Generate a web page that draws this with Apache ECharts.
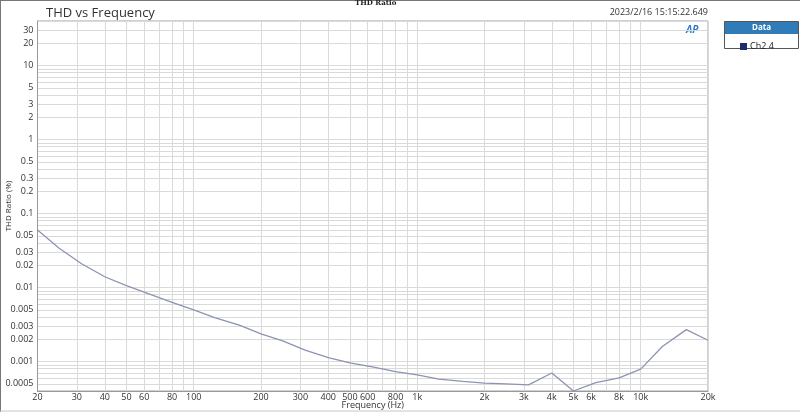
<!DOCTYPE html>
<html>
<head>
<meta charset="utf-8">
<title>THD vs Frequency</title>
<script src="https://cdn.jsdelivr.net/npm/echarts@6/dist/echarts.min.js"></script>
<style>
  html, body { margin: 0; padding: 0; background: #fff; }
  #chart { width: 800px; height: 412px; }
</style>
</head>
<body>
<div id="chart"></div>
<script>
// 1/3-octave measurement points (Hz)
const freqs = [20, 25, 31.5, 40, 50, 63, 80, 100, 125, 160, 200, 250, 315, 400, 500, 630, 800,
    1000, 1250, 1600, 2000, 2500, 3150, 4000, 5000, 6300, 8000, 10000, 12500, 16000, 20000];
// THD ratio (%)
const thdCh2 = [0.06, 0.034, 0.021, 0.014, 0.0106, 0.0082, 0.0063, 0.005, 0.0039, 0.0031, 0.00236,
    0.0019, 0.00143, 0.00113, 0.00096, 0.00085, 0.00073, 0.00066, 0.00058, 0.00054, 0.00051,
    0.0005, 0.000485, 0.0007, 0.0004, 0.00052, 0.0006, 0.00079, 0.0016, 0.0027, 0.00194];

// grid lines and labels
const xGridValues = [20, 30, 40, 50, 60, 70, 80, 90, 100, 200, 300, 400, 500, 600, 700, 800, 900,
    1000, 2000, 3000, 4000, 5000, 6000, 7000, 8000, 9000, 10000, 20000];
const xLabelValues = [20, 30, 40, 50, 60, 80, 100, 200, 300, 400, 500, 600, 800,
    1000, 2000, 3000, 4000, 5000, 6000, 8000, 10000, 20000];
const yGridValues = [0.0004, 0.0005, 0.0006, 0.0007, 0.0008, 0.0009,
    0.001, 0.002, 0.003, 0.004, 0.005, 0.006, 0.007, 0.008, 0.009,
    0.01, 0.02, 0.03, 0.04, 0.05, 0.06, 0.07, 0.08, 0.09,
    0.1, 0.2, 0.3, 0.4, 0.5, 0.6, 0.7, 0.8, 0.9,
    1, 2, 3, 4, 5, 6, 7, 8, 9, 10, 20, 30, 40];
const yLabelValues = [0.0005, 0.001, 0.002, 0.003, 0.005, 0.01, 0.02, 0.03, 0.05,
    0.1, 0.2, 0.3, 0.5, 1, 2, 3, 5, 10, 20, 30];

const xMin = 20, xMax = 20000;
const yMin = 0.0004, yMax = 40;

const lg = Math.log10;
const fontFamily = "'Open Sans', 'Noto Sans', sans-serif";

function fmtFreq(v) {
    const f = Math.round(Math.pow(10, v));
    return f >= 1000 ? (f / 1000) + "k" : String(f);
}
function fmtRatio(v) {
    return String(Number(Math.pow(10, v).toPrecision(2)));
}

const chart = echarts.init(document.getElementById("chart"));

chart.setOption({
    animation: false,
    textStyle: { fontFamily: fontFamily },
    title: {
        text: "THD vs Frequency",
        left: 41,
        top: 2,
        textStyle: { fontSize: 13, fontWeight: "normal", color: "#333", fontFamily: fontFamily }
    },
    legend: {
        left: 735,
        top: 37,
        icon: "rect",
        itemWidth: 7,
        itemHeight: 7,
        itemGap: 4,
        textStyle: { fontSize: 9, color: "#222", padding: [0, 0, 0, -2] },
        data: [{ name: "Ch2 4", itemStyle: { color: "#1b2d6b" } }]
    },
    grid: {
        left: 37.5,
        right: 92,
        top: 21,
        bottom: 21,
        containLabel: false,
        outerBoundsMode: "none",
        show: true,
        borderColor: "#a3a3a3",
        borderWidth: 1
    },
    xAxis: {
        type: "value",
        min: lg(xMin),
        max: lg(xMax),
        name: "Frequency (Hz)",
        nameLocation: "middle",
        nameGap: 10,
        nameMoveOverlap: false,
        nameTextStyle: { fontSize: 9, color: "#333" },
        axisLine: { show: true, onZero: false, lineStyle: { color: "#9a9a9a" } },
        axisTick: { show: false, customValues: xGridValues.map(lg) },
        axisLabel: {
            customValues: xLabelValues.map(lg),
            formatter: fmtFreq,
            fontSize: 9,
            color: "#333",
            margin: 2
        },
        splitLine: { show: true, lineStyle: { color: "#dadada", width: 1 } }
    },
    yAxis: {
        type: "value",
        min: lg(yMin),
        max: lg(yMax),
        name: "THD Ratio (%)",
        nameLocation: "middle",
        nameGap: 25,
        nameRotate: 90,
        nameMoveOverlap: false,
        nameTextStyle: { fontSize: 8, color: "#333" },
        axisLine: { show: true, onZero: false, lineStyle: { color: "#9a9a9a" } },
        axisTick: { show: false, customValues: yGridValues.map(lg) },
        axisLabel: {
            customValues: yLabelValues.map(lg),
            formatter: fmtRatio,
            fontSize: 9,
            color: "#333",
            margin: 4
        },
        splitLine: { show: true, lineStyle: { color: "#dadada", width: 1 } }
    },
    graphic: [
        // outer frame
        { type: "line", shape: { x1: 0, y1: 0.5, x2: 800, y2: 0.5 }, style: { stroke: "#777", lineWidth: 1 } },
        { type: "line", shape: { x1: 0.5, y1: 0, x2: 0.5, y2: 412 }, style: { stroke: "#777", lineWidth: 1 } },
        { type: "line", shape: { x1: 0, y1: 411, x2: 800, y2: 411 }, style: { stroke: "#c8c8c8", lineWidth: 1 } },
        // small header
        {
            type: "text", left: 355, top: 0,
            style: { text: "THD Ratio", fontSize: 7, fontWeight: "bold", fontFamily: "'DejaVu Serif', serif", fill: "#222" }
        },
        // timestamp
        {
            type: "text", right: 92, top: 8,
            style: { text: "2023/2/16 15:15:22.649", fontSize: 9, fill: "#333", fontFamily: fontFamily }
        },
        // AP mark
        {
            type: "text", left: 686, top: 25,
            style: { text: "AP", fontSize: 10, fontWeight: "bold", fontStyle: "italic", fill: "#2e7cc9", fontFamily: fontFamily }
        },
        // legend box
        {
            type: "rect", shape: { x: 724.5, y: 21.5, width: 74, height: 27 },
            style: { fill: "#fff", stroke: "#555", lineWidth: 1 }, z: -1
        },
        {
            type: "rect", shape: { x: 725, y: 22, width: 73, height: 12 },
            style: { fill: "#2f7cb8" }
        },
        {
            type: "text", x: 761.5, y: 28,
            style: { text: "Data", fontSize: 8, fontWeight: "bold", fill: "#fff", align: "center", verticalAlign: "middle", fontFamily: fontFamily }
        }
    ],
    series: [
        {
            name: "Ch2 4",
            type: "line",
            data: freqs.map((f, i) => [lg(f), lg(thdCh2[i])]),
            showSymbol: false,
            symbol: "none",
            lineStyle: { color: "#8c94b2", width: 1.3 },
            itemStyle: { color: "#8c94b2" }
        }
    ]
});
</script>
</body>
</html>
